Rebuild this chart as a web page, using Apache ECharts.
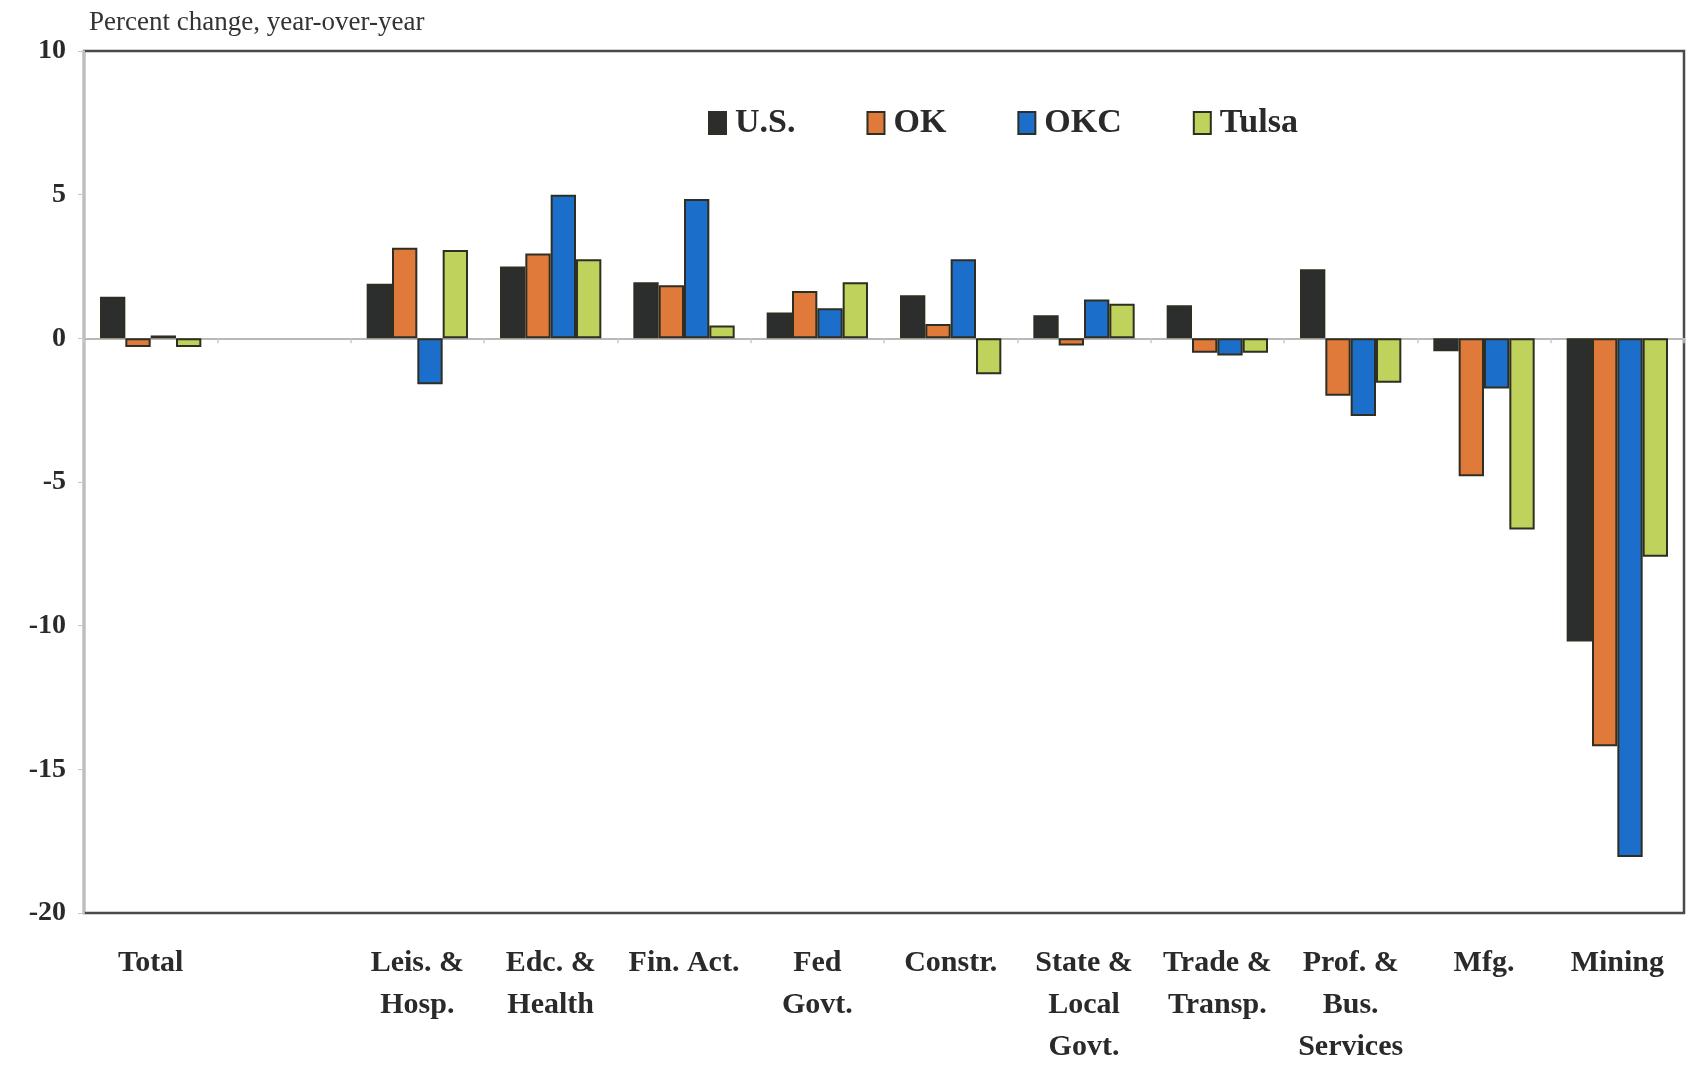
<!DOCTYPE html>
<html>
<head>
<meta charset="utf-8">
<script src="https://cdn.jsdelivr.net/npm/echarts@6/dist/echarts.min.js"></script>
<style>
html,body{margin:0;padding:0;background:#fff;}
#c{width:1690px;height:1068px;}
</style>
</head>
<body>
<div id="c"></div>
<script>
const categories = ['Total', '', 'Leis. &\nHosp.', 'Edc. &\nHealth', 'Fin. Act.', 'Fed\nGovt.', 'Constr.', 'State &\nLocal\nGovt.', 'Trade &\nTransp.', 'Prof. &\nBus.\nServices', 'Mfg.', 'Mining'];
const usValues    = [1.45, null, 1.9, 2.5, 1.95, 0.9, 1.5, 0.8, 1.15, 2.4, -0.45, -10.55];
const okValues    = [-0.3, null, 3.15, 2.95, 1.85, 1.65, 0.5, -0.25, -0.5, -2.0, -4.8, -14.2];
const okcValues   = [0.1, null, -1.6, 5.0, 4.85, 1.05, 2.75, 1.35, -0.6, -2.7, -1.75, -18.05];
const tulsaValues = [-0.3, null, 3.07, 2.75, 0.45, 1.95, -1.25, 1.2, -0.5, -1.55, -6.65, -7.6];
const seriesNames = ['U.S.', 'OK', 'OKC', 'Tulsa'];
const seriesColors = ['#2b2e2c', '#e07a3a', '#1b6fca', '#bfd25b'];
const yTicks = {min: -20, max: 10, interval: 5};

const serif = "'Liberation Serif', 'DejaVu Serif', serif";
const chart = echarts.init(document.getElementById('c'));
const allValues = [usValues, okValues, okcValues, tulsaValues];

chart.setOption({
  animation: false,
  backgroundColor: '#ffffff',
  title: {
    text: 'Percent change, year-over-year',
    left: 84, top: 4,
    textStyle: {fontFamily: serif, fontWeight: 'normal', fontSize: 27, color: '#333'}
  },
  legend: {
    data: seriesNames,
    left: 703, top: 101,
    itemWidth: 17, itemHeight: 22, itemGap: 71,
    icon: 'rect',
    textStyle: {fontFamily: serif, fontWeight: 'bold', fontSize: 34, color: '#2a2a2a', padding: [0,0,0,4]}
  },
  grid: {
    left: 84, right: 6, top: 51, bottom: 144,
    show: true, borderColor: '#4a4a4a', borderWidth: 2.5, backgroundColor: '#fff'
  },
  xAxis: [{
    type: 'category',
    data: categories,
    position: 'bottom',
    axisLine: {show: false, onZero: false},
    axisTick: {show: false},
    axisLabel: {fontFamily: serif, fontWeight: 'bold', fontSize: 30, color: '#2a2a2a', lineHeight: 42, margin: 29, interval: 0}
  }, {
    type: 'category',
    data: categories,
    position: 'bottom',
    axisLine: {show: true, onZero: true, lineStyle: {color: '#b8b8b8', width: 2}},
    axisTick: {show: true, length: 5, inside: false, lineStyle: {color: '#c8c8c8', width: 1.5}},
    axisLabel: {show: false}
  }],
  yAxis: {
    type: 'value',
    min: yTicks.min, max: yTicks.max, interval: yTicks.interval,
    axisLine: {show: true, lineStyle: {color: '#bdbdbd', width: 2}},
    axisTick: {show: true, length: 6, lineStyle: {color: '#c8c8c8'}},
    splitLine: {show: false},
    axisLabel: {fontFamily: serif, fontWeight: 'bold', fontSize: 28, color: '#2a2a2a', margin: 18}
  },
  series: seriesNames.map((name, i) => ({
    name: name,
    type: 'bar',
    xAxisIndex: 0,
    data: allValues[i],
    barGap: '0%',
    barCategoryGap: '24%',
    itemStyle: {color: seriesColors[i], borderColor: '#2e2e22', borderWidth: 2}
  }))
});
</script>
</body>
</html>
